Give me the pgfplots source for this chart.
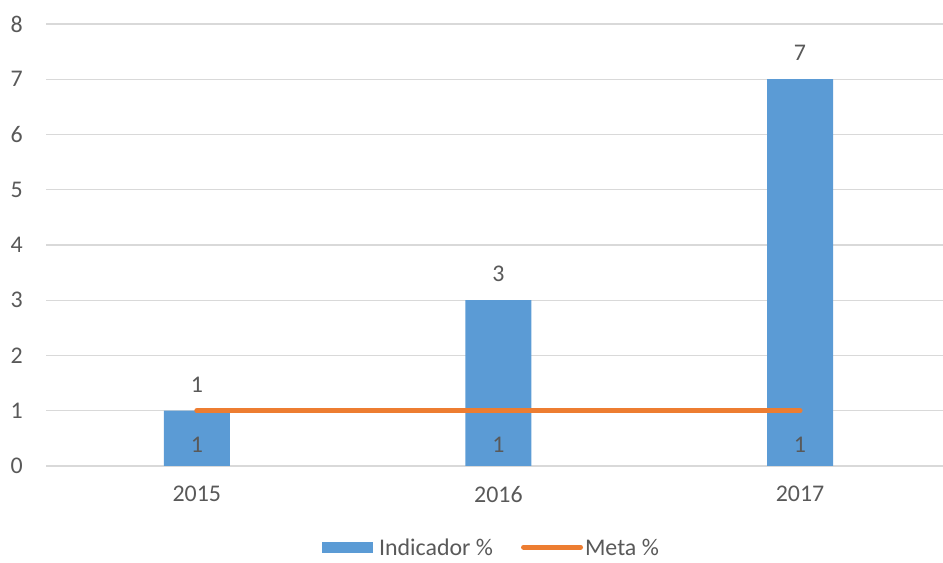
\documentclass[border=0pt]{standalone}
\usepackage{pgfplots}
\pgfplotsset{compat=1.18}
\usepackage{fontspec}
\setmainfont{Carlito}
\definecolor{barblue}{HTML}{5B9BD5}
\definecolor{metaorange}{HTML}{ED7D31}
\definecolor{txtgray}{HTML}{595959}
\definecolor{gridgray}{HTML}{D9D9D9}
\begin{document}
\begin{tikzpicture}
\begin{axis}[name=ax, scale only axis, width=897bp, height=442bp,
  xmin=-0.5, xmax=2.474, ymin=0, ymax=8,
  axis line style={draw=none},
  ymajorgrids, grid style={gridgray, line width=1.2bp},
  ytick={0,1,...,8}, xtick={0,1,2}, xticklabels={2015,2016,2017},
  major tick length=0pt, tick style={draw=none},
  /pgf/number format/assume math mode=true,
  ticklabel style={font=\fontsize{24}{28}\selectfont, text=txtgray, inner sep=0pt},
  yticklabel style={anchor=east, xshift=-23bp},
  xticklabel style={anchor=north, yshift=-20bp},
  clip=false,
  legend style={at={(0.4955,-0.1835)}, anchor=center, draw=none, fill=none,
    font=\fontsize{24}{28}\selectfont, text=txtgray, legend columns=-1,
    /tikz/every odd column/.append style={column sep=6bp},
    /tikz/every even column/.append style={column sep=28bp},
    nodes={inner sep=0pt, text depth=0pt}},
]
\addplot[ybar, bar width=66bp, fill=barblue, draw=none,
  nodes near coords,
  nodes near coords style={anchor=south, yshift=18.5bp, inner sep=0pt,
    font=\fontsize{24}{28}\selectfont, text=txtgray},
  legend image code/.code={\fill[barblue] (0bp,-5.5bp) rectangle (51bp,5.5bp);}]
  coordinates {(0,1) (1,3) (2,7)};
\addlegendentry{Indicador \%}
\addplot[metaorange, line width=5bp, line cap=round, mark=none,
  nodes near coords,
  nodes near coords style={anchor=south, yshift=-44bp, inner sep=0pt,
    font=\fontsize{24}{28}\selectfont, text=txtgray},
  legend image code/.code={\draw[metaorange, line width=5bp] (0bp,0bp) -- (57bp,0bp);}]
  coordinates {(0,1) (1,1) (2,1)};
\addlegendentry{\hspace*{-4bp}Meta \%}
\end{axis}
\pgfresetboundingbox
\path[use as bounding box] ([xshift=-46bp,yshift=-97bp]ax.south west) rectangle ([yshift=24bp]ax.north east);
\end{tikzpicture}
\end{document}
